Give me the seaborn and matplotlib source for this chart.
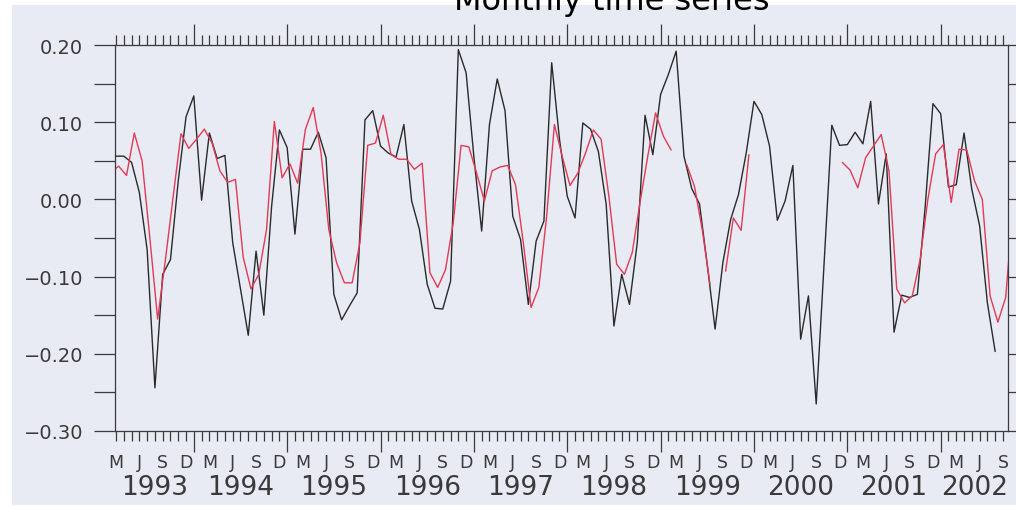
import numpy as np
import pandas as pd
import matplotlib
matplotlib.use("Agg")
import matplotlib.pyplot as plt
import seaborn as sns
from matplotlib.patches import Rectangle
from matplotlib.ticker import MultipleLocator, FixedLocator
from matplotlib.transforms import blended_transform_factory

# Monthly series, index 0 = March 1993
black_series = [
    0.056, 0.056, 0.048, 0.009, -0.065, -0.244, -0.097, -0.078, 0.024, 0.107,
    0.134, -0.001, 0.086, 0.053, 0.057, -0.056, -0.116, -0.176, -0.067, -0.150,
    -0.009, 0.090, 0.067, -0.045, 0.065, 0.065, 0.087, 0.054, -0.123, -0.156,
    -0.138, -0.121, 0.103, 0.115, 0.069, 0.060, 0.055, 0.097, -0.002, -0.039,
    -0.110, -0.141, -0.142, -0.106, 0.194, 0.164, 0.055, -0.041, 0.097, 0.156,
    0.115, -0.022, -0.052, -0.136, -0.054, -0.028, 0.177, 0.078, 0.004, -0.024,
    0.099, 0.091, 0.062, -0.006, -0.164, -0.097, -0.136, -0.056, 0.109, 0.058,
    0.136, 0.162, 0.192, 0.056, 0.014, -0.006, -0.085, -0.168, -0.082, -0.026,
    0.006, 0.060, 0.127, 0.110, 0.069, -0.027, -0.002, 0.044, -0.181, -0.125,
    -0.265, -0.085, 0.096, 0.070, 0.071, 0.087, 0.072, 0.127, -0.006, 0.059,
    -0.172, -0.124, -0.127, -0.123, -0.010, 0.124, 0.111, 0.016, 0.019, 0.086,
    0.013, -0.034, -0.134, -0.197,
]

# Second series, index 0 = February 1993 (None = missing month)
red_series = [
    0.036,
    0.043, 0.031, 0.086, 0.050, -0.050, -0.155, -0.078, 0.004, 0.085, 0.066,
    0.078, 0.091, 0.073, 0.037, 0.022, 0.026, -0.075, -0.116, -0.097, -0.039,
    0.101, 0.028, 0.046, 0.021, 0.091, 0.119, 0.060, -0.039, -0.082, -0.108,
    -0.108, -0.056, 0.070, 0.073, 0.109, 0.058, 0.052, 0.052, 0.039, 0.047,
    -0.095, -0.114, -0.091, -0.030, 0.070, 0.068, 0.034, -0.002, 0.037, 0.042,
    0.044, 0.019, -0.056, -0.140, -0.114, -0.022, 0.097, 0.056, 0.018, 0.034,
    0.060, 0.090, 0.078, 0.004, -0.084, -0.097, -0.069, -0.004, 0.056, 0.112,
    0.082, 0.064, None, 0.045, 0.017, -0.039, -0.110, None, -0.093, -0.024,
    -0.040, 0.058, None, None, None, None, None, None, None, None,
    None, None, None, 0.048, 0.038, 0.015, 0.054, 0.069, 0.084, 0.037,
    -0.116, -0.134, -0.125, -0.078, 0.000, 0.059, 0.071, -0.004, 0.065, 0.064,
    0.024, 0.000, -0.125, -0.159, -0.127, -0.005,
]

month_letters = ["M", "J", "S", "D"]
years = list(range(1993, 2003))
y_ticks = [0.20, 0.10, 0.00, -0.10, -0.20, -0.30]

PAPER = "#e8ebf4"
INK = "#3a3a3a"


def to_frame(values, start, shift):
    v = np.array([np.nan if x is None else x for x in values], dtype=float)
    t = np.arange(len(v)) + start + shift
    seg = np.cumsum(np.isnan(v))
    df = pd.DataFrame({"t": t, "v": v, "seg": seg})
    return df.dropna()


black_df = to_frame(black_series, 0, 0.0)
red_df = to_frame(red_series, -1, 0.35)

sns.set_theme(style="ticks")
plt.rcParams["font.family"] = ["DejaVu Sans"]

W, H = 1016, 510
fig = plt.figure(figsize=(W / 100, H / 100), dpi=100, facecolor="white")
fig.patches.append(Rectangle((12 / W, 4 / H), 1 - 12 / W, 1 - 10 / H,
                             transform=fig.transFigure, facecolor=PAPER,
                             edgecolor="none", zorder=-10))

left, right, top, bottom = 115, 1008, 46, 432
ax = fig.add_axes([left / W, 1 - bottom / H, (right - left) / W, (bottom - top) / H])
ax.set_facecolor("none")

sns.lineplot(data=black_df, x="t", y="v", units="seg", estimator=None,
             color="#2a2a2a", lw=1.0, ax=ax)
sns.lineplot(data=red_df, x="t", y="v", units="seg", estimator=None,
             color="#e23a55", lw=1.0, ax=ax)

x_lo, x_hi = -0.13, 114.65
ax.set_xlim(x_lo, x_hi)
ax.set_ylim(-0.30, 0.20)
ax.set_xlabel("")
ax.set_ylabel("")

for s in ax.spines.values():
    s.set_visible(True)
    s.set_color(INK)
    s.set_linewidth(0.9)

# y axis: labelled every 0.1, extra ticks every 0.05
ax.yaxis.set_major_locator(FixedLocator(y_ticks))
ax.set_yticklabels([f"{v:.2f}".replace("-", "\u2212") for v in y_ticks])
ax.yaxis.set_minor_locator(MultipleLocator(0.05))
ax.tick_params(axis="y", which="both", direction="out", length=15, width=0.9,
               color=INK, left=True, right=True, labelsize=14, labelcolor=INK, pad=8)

# x axis: a tick every month, longer ticks at each January
jan_pos = [10 + 12 * k for k in range(9)]
ax.xaxis.set_major_locator(FixedLocator(jan_pos))
ax.xaxis.set_minor_locator(MultipleLocator(1))
ax.tick_params(axis="x", which="major", direction="out", length=15, width=0.9,
               color=INK, top=True, bottom=True, labelbottom=False)
ax.tick_params(axis="x", which="minor", direction="out", length=7, width=0.9,
               color=INK, top=True, bottom=True)

trans = blended_transform_factory(ax.transData, ax.transAxes)
for k, pos in enumerate(range(0, 115, 3)):
    ax.text(pos, -0.0816, month_letters[k % 4], transform=trans, ha="center",
            va="center", fontsize=12.5, color=INK, clip_on=False)

# each year label sits in the middle of that year's stretch of the axis
edges = [x_lo] + jan_pos + [x_hi]
for k, yr in enumerate(years):
    ax.text((edges[k] + edges[k + 1]) / 2, -0.144, str(yr), transform=trans,
            ha="center", va="center", fontsize=19, color=INK, clip_on=False)

fig.text(612 / W, 1 - 10 / H, "Monthly time series", ha="center", va="baseline",
         fontsize=23, color="black")

fig.savefig("out.png", dpi=100, facecolor="white")
